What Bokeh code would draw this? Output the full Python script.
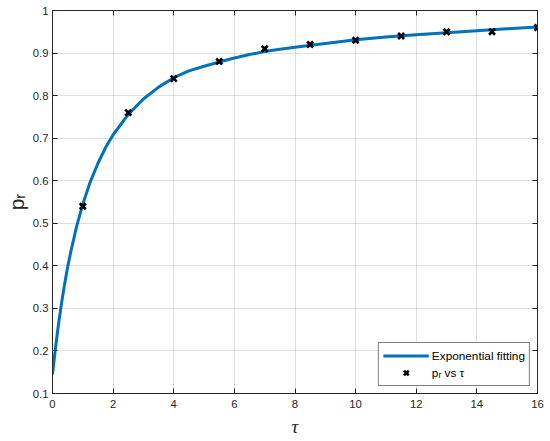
from bokeh.plotting import figure
from bokeh.models import (LinearAxis, FixedTicker, CustomJSTickFormatter, Range1d,
                          Legend, LegendItem)
from bokeh.embed import file_html
from bokeh.resources import INLINE

# measured data points (p_r vs tau)
tau_pts = [1, 2.5, 4, 5.5, 7, 8.5, 10, 11.5, 13, 14.5, 16]
pr_pts = [0.54, 0.76, 0.84, 0.88, 0.91, 0.92, 0.93, 0.94, 0.95, 0.95, 0.96]

# exponential fitting curve
tau_fit = [0, 0.1, 0.2, 0.3, 0.4, 0.5, 0.6, 0.8, 1.0, 1.25, 1.5, 1.75, 2.0, 2.5,
           3.0, 3.5, 4.0, 4.5, 5.0, 5.5, 6.0, 6.5, 7.0, 7.5, 8, 9, 10, 11, 12,
           13, 14, 15, 16]
pr_fit = [0.145, 0.208, 0.264, 0.313, 0.357, 0.397, 0.432, 0.494, 0.545, 0.598,
          0.641, 0.678, 0.708, 0.756, 0.792, 0.82, 0.842, 0.858, 0.869, 0.879,
          0.8885, 0.8965, 0.9035, 0.909, 0.9135, 0.9225, 0.931, 0.9375, 0.943,
          0.948, 0.9525, 0.957, 0.961]

x_ticks = [0, 2, 4, 6, 8, 10, 12, 14, 16]
y_ticks = [0.1, 0.2, 0.3, 0.4, 0.5, 0.6, 0.7, 0.8, 0.9, 1.0]

x_title = "τ"
y_title = "pᵣ"
series_names = ["Exponential fitting", "pᵣ vs τ"]

AX = "#262626"
FONT = "Liberation Sans"

p = figure(frame_width=485, frame_height=383, output_backend="svg",
           toolbar_location=None,
           x_range=Range1d(0, 16), y_range=Range1d(0.1, 1.0),
           min_border_left=52, min_border_right=13, min_border_top=10,
           min_border_bottom=48, background_fill_color="white",
           border_fill_color="white")
p.outline_line_color = AX
p.outline_line_width = 1

fmt = CustomJSTickFormatter(code="return (Math.round(tick*10)/10).toString();")

for ax in (p.xaxis[0], p.yaxis[0]):
    ax.axis_line_color = AX
    ax.major_tick_line_color = AX
    ax.major_tick_in = 5
    ax.major_tick_out = 0
    ax.minor_tick_line_color = None
    ax.major_label_text_color = AX
    ax.major_label_text_font = FONT
    ax.major_label_text_font_size = "11.3px"
    ax.formatter = fmt

p.xaxis[0].ticker = FixedTicker(ticks=x_ticks)
p.yaxis[0].ticker = FixedTicker(ticks=y_ticks)
p.xaxis[0].major_label_standoff = 6
p.yaxis[0].major_label_standoff = 4

p.xaxis[0].axis_label = x_title
p.xaxis[0].axis_label_text_font = "Liberation Serif"
p.xaxis[0].axis_label_text_font_style = "italic"
p.xaxis[0].axis_label_text_font_size = "19px"
p.xaxis[0].axis_label_text_color = AX
p.xaxis[0].axis_label_standoff = 5

p.yaxis[0].axis_label = y_title
p.yaxis[0].axis_label_text_font = FONT
p.yaxis[0].axis_label_text_font_style = "normal"
p.yaxis[0].axis_label_text_font_size = "21px"
p.yaxis[0].axis_label_text_color = AX
p.yaxis[0].axis_label_standoff = 2

# mirrored axes (box with inside ticks, no labels)
top = LinearAxis(ticker=FixedTicker(ticks=x_ticks), major_label_text_font_size="0px",
                 major_label_text_color=None,
                 major_tick_in=5, major_tick_out=0, minor_tick_line_color=None,
                 axis_line_color=AX, major_tick_line_color=AX, major_label_standoff=0)
right = LinearAxis(ticker=FixedTicker(ticks=y_ticks), major_label_text_font_size="0px",
                   major_label_text_color=None,
                   major_tick_in=5, major_tick_out=0, minor_tick_line_color=None,
                   axis_line_color=AX, major_tick_line_color=AX, major_label_standoff=0)
p.add_layout(top, "above")
p.add_layout(right, "right")

p.xgrid.ticker = FixedTicker(ticks=x_ticks)
p.ygrid.ticker = FixedTicker(ticks=y_ticks)
for g in (p.xgrid[0], p.ygrid[0]):
    g.grid_line_color = AX
    g.grid_line_alpha = 0.15
    g.grid_line_width = 1

fit = p.line(tau_fit, pr_fit, line_color="#0072BD", line_width=3)
pts = p.scatter(tau_pts, pr_pts, marker="x", size=8.5, line_color="black", line_width=2.7)

legend = Legend(items=[LegendItem(label=series_names[0], renderers=[fit]),
                       LegendItem(label=series_names[1], renderers=[pts])],
                location="bottom_right", margin=7, padding=4, spacing=0,
                glyph_width=46, glyph_height=17, label_height=17,
                label_standoff=3, label_text_font=FONT, label_text_font_size="11.8px",
                label_text_color="black", border_line_color="black",
                border_line_width=1, background_fill_color="white",
                background_fill_alpha=1)
p.add_layout(legend, "center")

open("out.html", "w").write(file_html(p, INLINE))
